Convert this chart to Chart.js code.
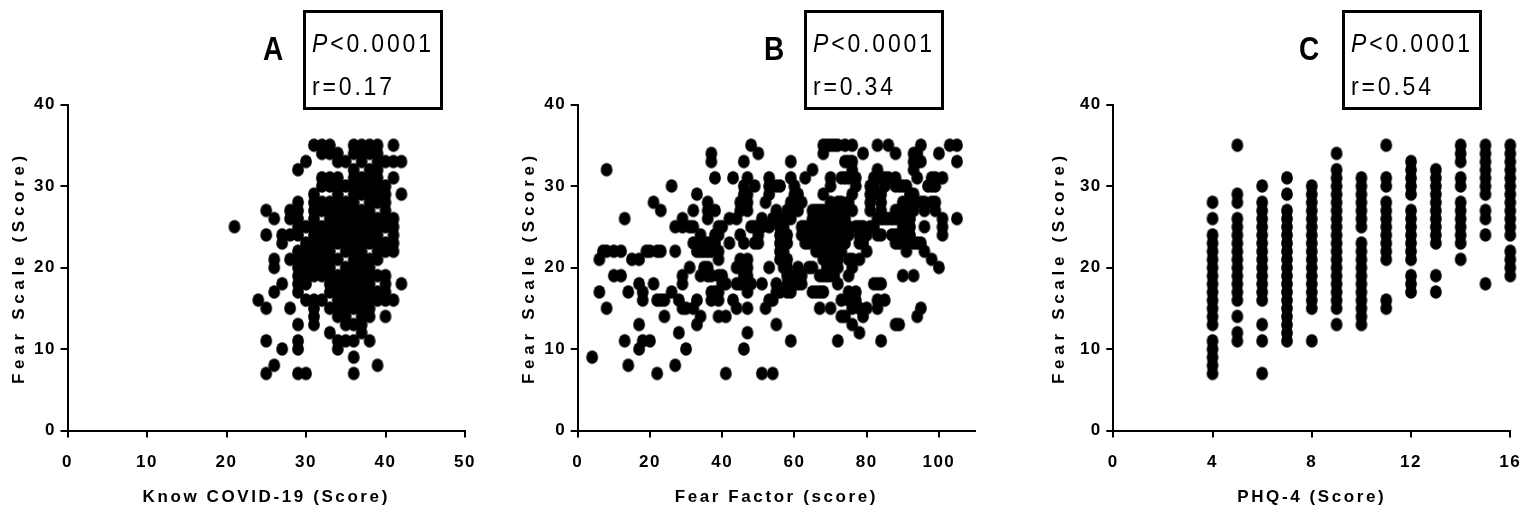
<!DOCTYPE html>
<html>
<head>
<meta charset="utf-8">
<title>Fear Scale scatter plots</title>
<script src="https://cdn.jsdelivr.net/npm/chart.js@4"></script>
<style>
  html, body { margin: 0; padding: 0; background: #fff; }
  #page { position: relative; width: 1529px; height: 512px; overflow: hidden; }
  canvas { position: absolute; top: 0; }
  .letter { position: absolute; top: 30px; font: bold 33px "Liberation Sans", sans-serif; color: #000; transform: scaleX(0.85); transform-origin: left; }
  .stats { position: absolute; top: 10px; height: 94px; border: 3px solid #000; font: 26px "Liberation Sans", sans-serif; letter-spacing: 3.2px; color: #000; }
  .stats div { position: absolute; left: 6px; white-space: nowrap; transform: scaleX(0.885); transform-origin: left; }
</style>
</head>
<body>
<div id="page">
  <canvas id="chartA" width="500" height="512" style="left:0"></canvas>
  <canvas id="chartB" width="500" height="512" style="left:510px"></canvas>
  <canvas id="chartC" width="520" height="512" style="left:1040px"></canvas>

  <div class="letter" style="left:263px">A</div>
  <div class="letter" style="left:764px">B</div>
  <div class="letter" style="left:1299px">C</div>

  <div class="stats" style="left:303px;width:134px"><div style="top:15px"><i>P</i>&lt;0.0001</div><div style="top:58px">r=0.17</div></div>
  <div class="stats" style="left:804px;width:134px"><div style="top:15px"><i>P</i>&lt;0.0001</div><div style="top:58px">r=0.34</div></div>
  <div class="stats" style="left:1342px;width:134px"><div style="top:15px"><i>P</i>&lt;0.0001</div><div style="top:58px">r=0.54</div></div>
</div>

<script>
// fear scale value of each row, used by panels A and B
const fearRows = [35, 34, 33, 32, 31, 30, 29, 28, 27, 26, 25, 24, 23, 22, 21, 20, 19, 18, 17, 16, 15, 14, 13, 12, 11, 10, 9, 8, 7];

// panel A: knowledge scores found on each fear row
const knowRows = [
  [31, 32, 33, 36, 37, 38, 39, 41],
  [32, 33, 34, 36, 37, 38, 39],
  [30, 34, 35, 37, 39, 40, 41, 42],
  [29, 36, 38, 39],
  [32, 33, 34, 36, 37, 38, 39, 41],
  [32, 33, 34, 35, 36, 37, 38, 39, 40],
  [31, 34, 36, 37, 38, 39, 40, 42],
  [29, 31, 32, 33, 34, 35, 36, 38, 39, 40],
  [25, 28, 29, 31, 32, 33, 34, 35, 36, 37, 38, 40],
  [26, 28, 29, 31, 33, 34, 35, 36, 37, 38, 39, 40, 41],
  [21, 29, 30, 31, 32, 33, 34, 35, 36, 37, 38, 39, 40, 41],
  [25, 27, 28, 29, 31, 32, 33, 34, 35, 36, 37, 38, 39, 41],
  [27, 30, 31, 32, 33, 34, 35, 36, 37, 38, 39, 40, 41],
  [29, 30, 31, 32, 33, 35, 36, 37, 39, 40, 41],
  [26, 28, 29, 30, 31, 32, 33, 34, 36, 37, 38, 39],
  [26, 29, 30, 31, 32, 33, 35, 36, 37, 38],
  [29, 30, 31, 32, 33, 34, 35, 36, 37, 38, 39, 40],
  [27, 29, 30, 33, 34, 35, 36, 37, 38, 40, 42],
  [26, 29, 33, 34, 35, 36, 37, 38, 39, 40],
  [24, 30, 31, 32, 34, 35, 36, 37, 38, 39, 40, 41],
  [25, 28, 31, 33, 34, 35, 36, 37, 38],
  [31, 34, 35, 37, 38, 40],
  [29, 31, 35, 36, 37],
  [33, 37],
  [25, 29, 34, 35, 36, 38],
  [27, 29, 34],
  [36],
  [26, 39],
  [25, 29, 30, 36]
];

// panel B: fear factor scores found on each fear row
const factorRows = [
  [48, 68, 69, 70, 71, 72, 74, 76, 83, 86, 95, 103, 105],
  [37, 50, 68, 79, 88, 93, 94, 100],
  [37, 46, 59, 74, 75, 76, 93, 94, 95, 105],
  [8, 65, 76, 83, 93],
  [38, 43, 47, 53, 59, 63, 70, 73, 74, 75, 77, 82, 83, 84, 85, 86, 88, 94, 98, 99, 101],
  [26, 46, 49, 53, 55, 56, 60, 70, 77, 81, 82, 85, 88, 89, 90, 91, 97, 98, 99],
  [33, 46, 47, 53, 60, 61, 68, 76, 81, 82, 84, 92, 93],
  [21, 36, 45, 47, 52, 59, 60, 61, 62, 70, 72, 73, 75, 81, 84, 90, 91, 92, 93, 95, 96, 98, 99],
  [23, 32, 36, 38, 45, 47, 55, 58, 59, 60, 61, 65, 66, 67, 68, 69, 70, 71, 72, 73, 74, 76, 81, 84, 88, 89, 91, 92, 93, 96, 99],
  [13, 29, 36, 42, 44, 51, 54, 55, 56, 58, 59, 65, 66, 67, 68, 69, 70, 72, 74, 83, 84, 85, 86, 87, 88, 89, 90, 92, 101, 105],
  [27, 29, 31, 32, 39, 40, 48, 49, 50, 51, 53, 56, 57, 62, 63, 64, 65, 66, 67, 68, 70, 71, 72, 73, 74, 75, 77, 78, 79, 81, 82, 90, 91, 92, 96, 101],
  [34, 38, 39, 45, 50, 56, 57, 58, 62, 63, 65, 66, 67, 68, 69, 70, 71, 72, 73, 74, 75, 78, 79, 80, 83, 84, 87, 88, 89, 90, 92, 101],
  [32, 33, 34, 35, 36, 37, 38, 42, 46, 49, 50, 56, 58, 63, 64, 66, 67, 68, 69, 70, 71, 72, 73, 74, 78, 79, 88, 89, 91, 93, 94, 95],
  [7, 8, 10, 12, 19, 20, 22, 23, 27, 33, 34, 35, 36, 37, 39, 56, 57, 66, 67, 68, 69, 70, 71, 72, 73, 80, 91, 96],
  [6, 15, 17, 39, 45, 47, 56, 57, 58, 68, 69, 70, 71, 72, 75, 76, 78, 98],
  [31, 35, 36, 44, 45, 46, 47, 53, 57, 58, 61, 64, 65, 69, 70, 72, 76, 100],
  [10, 12, 29, 34, 36, 37, 39, 40, 46, 47, 58, 60, 62, 67, 68, 69, 70, 71, 75, 90, 93],
  [17, 21, 29, 40, 41, 44, 45, 46, 47, 48, 51, 55, 58, 59, 60, 61, 62, 72, 82, 83, 84],
  [6, 14, 18, 26, 37, 38, 39, 47, 55, 56, 58, 59, 65, 66, 67, 68, 75, 77],
  [18, 22, 23, 24, 28, 33, 37, 39, 43, 53, 54, 73, 75, 76, 77, 83, 85],
  [8, 29, 30, 32, 44, 47, 52, 67, 70, 76, 78, 80, 83, 95],
  [24, 34, 39, 41, 73, 74, 79, 94],
  [17, 33, 55, 76, 88, 89],
  [28, 47, 78],
  [13, 18, 20, 59, 72, 84],
  [17, 30, 46],
  [4],
  [14, 27],
  [22, 41, 51, 54]
];

// panel C: fear scale values found in each PHQ-4 column
const phqScores = [4, 5, 6, 7, 8, 9, 10, 11, 12, 13, 14, 15, 16];
const phqColumns = [
  [28, 26, 24, 23, 22, 21, 20, 19, 18, 17, 16, 15, 14, 13, 11, 10, 9, 8, 7],
  [35, 29, 28, 26, 25, 24, 23, 22, 21, 20, 19, 18, 17, 16, 14, 12, 11],
  [30, 28, 27, 26, 25, 24, 23, 22, 21, 20, 19, 18, 17, 16, 13, 11, 7],
  [31, 29, 27, 26, 25, 24, 23, 22, 21, 20, 19, 18, 17, 16, 15, 14, 13, 12, 11],
  [30, 29, 28, 27, 26, 25, 24, 23, 22, 21, 20, 19, 18, 17, 16, 15, 11],
  [34, 32, 31, 30, 29, 28, 27, 26, 25, 24, 23, 22, 21, 20, 19, 18, 17, 16, 15, 13],
  [31, 30, 29, 28, 27, 26, 25, 23, 22, 21, 20, 19, 18, 17, 16, 15, 14, 13],
  [35, 31, 30, 28, 27, 26, 25, 24, 23, 22, 21, 16, 15],
  [33, 32, 31, 30, 29, 27, 26, 25, 24, 23, 22, 21, 19, 18, 17],
  [32, 31, 30, 29, 28, 27, 26, 25, 24, 23, 19, 17],
  [35, 34, 33, 31, 30, 28, 27, 26, 25, 24, 23, 21],
  [35, 34, 33, 32, 31, 30, 29, 27, 26, 24, 18],
  [35, 34, 33, 32, 31, 30, 29, 28, 27, 26, 25, 24, 22, 21, 20, 19]
];

const fearTicks = [0, 10, 20, 30, 40];
const knowTicks = [0, 10, 20, 30, 40, 50];
const factorTicks = [0, 20, 40, 60, 80, 100];
const phqTicks = [0, 4, 8, 12, 16];

const FONT = '"Liberation Sans", sans-serif';
const TICK_SPACING = '1.5px';
const X_TITLE_SPACING = '2.6px';
const Y_TITLE_SPACING = '4.7px';

function withSpacing(scale, spacing) {
    const drawTitle = scale.drawTitle;
    scale.drawTitle = function() {
        this.ctx.save();
        this.ctx.letterSpacing = spacing;
        drawTitle.call(this);
        this.ctx.restore();
    };
}

// Chart.js has no letter spacing option, so set it on the context
const spacingPlugin = {
    id: 'spacing',
    beforeDraw(chart) {
        chart.ctx.letterSpacing = TICK_SPACING;
        if (!chart.spacingDone) {
            withSpacing(chart.scales.x, X_TITLE_SPACING);
            withSpacing(chart.scales.y, Y_TITLE_SPACING);
            chart.spacingDone = true;
        }
    }
};

// the dots in the picture are a little taller than wide
function makeDot() {
    const dot = document.createElement('canvas');
    dot.width = 14;
    dot.height = 16;
    const ctx = dot.getContext('2d');
    ctx.fillStyle = '#000';
    ctx.beginPath();
    ctx.ellipse(7, 8, 5.9, 6.8, 0, 0, Math.PI * 2);
    ctx.fill();
    return dot;
}

function rowsToPoints(rows) {
    const points = [];
    rows.forEach((xs, i) => xs.forEach(x => points.push({ x: x, y: fearRows[i] })));
    return points;
}

function columnsToPoints(columns) {
    const points = [];
    columns.forEach((ys, i) => ys.forEach(y => points.push({ x: phqScores[i], y: y })));
    return points;
}

function drawPanel(id, points, xMax, xTicks, xTitle, leftWidth, rightPad) {
    return new Chart(document.getElementById(id), {
        type: 'scatter',
        data: {
            datasets: [{
                data: points,
                pointStyle: makeDot(),
                backgroundColor: '#000',
                borderWidth: 0,
                pointRadius: 6,
                pointHoverRadius: 6,
                clip: false
            }]
        },
        plugins: [spacingPlugin],
        options: {
            responsive: false,
            animation: false,
            layout: { padding: { top: 104.5, right: rightPad, left: 0, bottom: 0 } },
            plugins: { legend: { display: false }, tooltip: { enabled: false } },
            scales: {
                x: {
                    type: 'linear',
                    min: 0,
                    max: xMax,
                    afterBuildTicks: scale => { scale.ticks = xTicks.map(v => ({ value: v })); },
                    afterFit: scale => { scale.height = 81.5; },
                    border: { color: '#000', width: 2 },
                    grid: { drawOnChartArea: false, color: '#000', tickColor: '#000', tickLength: 7, lineWidth: 2 },
                    ticks: { color: '#000', maxRotation: 0, autoSkip: false, padding: 15, font: { family: FONT, weight: 'bold', size: 17 } },
                    title: { display: true, text: xTitle, color: '#000', padding: { top: 0, bottom: 4 }, font: { family: FONT, weight: 'bold', size: 17 } }
                },
                y: {
                    type: 'linear',
                    min: 0,
                    max: 40,
                    afterBuildTicks: scale => { scale.ticks = fearTicks.map(v => ({ value: v })); },
                    afterFit: scale => { scale.width = leftWidth; },
                    border: { color: '#000', width: 2 },
                    grid: { drawOnChartArea: false, color: '#000', tickColor: '#000', tickLength: 7, lineWidth: 2 },
                    ticks: { color: '#000', padding: 4.5, autoSkip: false, font: { family: FONT, weight: 'bold', size: 17 } },
                    title: { display: true, text: 'Fear Scale (Score)', color: '#000', padding: { top: 9, bottom: 0 }, font: { family: FONT, weight: 'bold', size: 17 } }
                }
            }
        }
    });
}

drawPanel('chartA', rowsToPoints(knowRows), 50, knowTicks, 'Know COVID-19 (Score)', 67.5, 35);
drawPanel('chartB', rowsToPoints(factorRows), 110, factorTicks, 'Fear Factor (score)', 67.7, 35);
drawPanel('chartC', columnsToPoints(phqColumns), 16, phqTicks, 'PHQ-4 (Score)', 73.3, 49.7);
</script>
</body>
</html>
